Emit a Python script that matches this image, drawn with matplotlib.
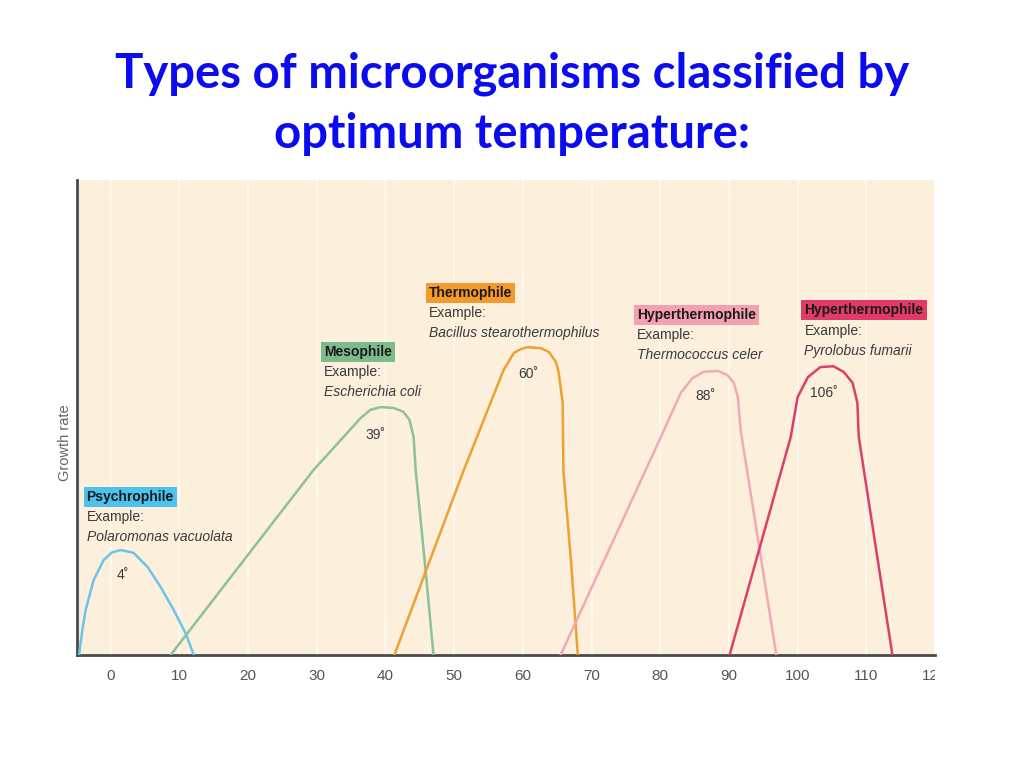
import matplotlib
matplotlib.use("Agg")
import matplotlib.pyplot as plt
from matplotlib.transforms import Bbox, TransformedBbox

# temperature (deg C) / growth rate points
psychro_x = [-4.6, -4.1, -3.64, -2.47, -1.02, 0.2, 1.46, 3.35, 5.39, 7.28, 9.17, 10.9, 12.1]
psychro_y = [0, 5.5, 9.5, 15.8, 20.0, 21.6, 22.1, 21.5, 18.5, 14.3, 9.5, 4.6, 0]

meso_x = [8.73, 29.5, 33.9, 36.4, 37.8, 39.3, 41.2, 42.6, 43.5, 44.1, 44.4, 45.7, 47.0]
meso_y = [0, 38.9, 45.9, 49.9, 51.6, 52.2, 52.0, 51.2, 49.5, 45.9, 38.9, 20.0, 0]

thermo_x = [41.3, 51.4, 57.2, 58.7, 59.7, 60.7, 62.6, 63.8, 64.8, 65.2, 65.8, 65.9, 67.0, 68.0]
thermo_y = [0, 38.9, 60.0, 63.6, 64.4, 64.8, 64.6, 63.8, 61.7, 59.6, 53.1, 38.9, 20.0, 0]

hyper1_x = [65.5, 80.1, 83.0, 84.7, 86.3, 88.4, 89.8, 90.7, 91.3, 91.7, 96.9]
hyper1_y = [0, 45.9, 55.2, 58.3, 59.6, 59.8, 58.9, 57.3, 54.3, 47.4, 0]

hyper2_x = [90.1, 99.0, 100.0, 101.5, 103.3, 105.2, 106.7, 108.0, 108.7, 108.9, 113.8]
hyper2_y = [0, 45.9, 54.3, 58.5, 60.6, 60.8, 59.6, 57.3, 53.1, 45.9, 0]

xticks = [0, 10, 20, 30, 40, 50, 60, 70, 80, 90, 100, 110, 120]

groups = ["Psychrophile", "Mesophile", "Thermophile", "Hyperthermophile", "Hyperthermophile"]
examples = ["Polaromonas vacuolata", "Escherichia coli", "Bacillus stearothermophilus",
            "Thermococcus celer", "Pyrolobus fumarii"]
optimum = ["4˚", "39˚", "60˚", "88˚", "106˚"]

line_colors = ["#6cc4e6", "#8cc29a", "#f0a032", "#f2a9b6", "#dd3f68"]
box_colors = ["#4cc2ee", "#7dbb8d", "#f49a2c", "#f3a1b1", "#e23a66"]

# label anchors (x, y of the group name) and the optimum labels
label_pos = [(-3.5, 33.3), (31.1, 63.8), (46.3, 76.2), (76.6, 71.6), (101.0, 72.6)]
opt_pos = [(1.7, 16.8), (38.6, 46.3), (60.8, 59.2), (86.6, 54.5), (103.8, 55.2)]

font_narrow = ["Liberation Sans Narrow", "Liberation Sans", "DejaVu Sans"]

fig = plt.figure(figsize=(10.24, 7.68), dpi=100)
ax = fig.add_axes([77 / 1024, 113 / 768, 858 / 1024, 475 / 768])
ax.set_facecolor("#fcefdc")

for x in xticks:
    ax.axvline(x, color="#fff7ec", lw=1.6, zorder=0)

curves = [(psychro_x, psychro_y), (meso_x, meso_y), (thermo_x, thermo_y),
          (hyper1_x, hyper1_y), (hyper2_x, hyper2_y)]
for (cx, cy), c in zip(curves, line_colors):
    ax.plot(cx, cy, color=c, lw=1.8, solid_joinstyle="round", zorder=3)

for i in range(5):
    lx, ly = label_pos[i]
    ax.text(lx, ly, groups[i], family=font_narrow, fontweight="bold", fontsize=10,
            color="#1a1a1a", va="center", ha="left", zorder=4,
            bbox=dict(boxstyle="square,pad=0.22", fc=box_colors[i], ec="none"))
    ax.text(lx, ly - 4.3, "Example:", family=font_narrow, fontsize=10,
            color="#3a3a3a", va="center", ha="left", zorder=4)
    ax.text(lx, ly - 8.5, examples[i], family=font_narrow, style="italic", fontsize=10,
            color="#3a3a3a", va="center", ha="left", zorder=4)
    ox, oy = opt_pos[i]
    ax.text(ox, oy, optimum[i], family=font_narrow, fontsize=10,
            color="#3a3a3a", va="center", ha="center", zorder=4)

ax.set_xlim(-4.9, 120.0)
ax.set_ylim(0, 100)
ax.set_xticks(xticks)
ax.set_xticklabels([str(t) for t in xticks], family=font_narrow, fontsize=11, color="#555555")
ax.set_yticks([])
ax.tick_params(axis="x", length=0, pad=10)
for s in ["top", "right"]:
    ax.spines[s].set_visible(False)
for s in ["left", "bottom"]:
    ax.spines[s].set_color("#4a4a4a")
    ax.spines[s].set_linewidth(2)

ax.text(-0.014, 0.448, "Growth rate", transform=ax.transAxes, rotation=90,
        family=font_narrow, fontsize=10.5, color="#666666", ha="center", va="center")

# the last tick label is cut by the picture edge in the reference
last = ax.get_xticklabels()[-1]
last.set_clip_on(True)
last.set_clip_box(TransformedBbox(Bbox([[0, 0], [935 / 1024, 1]]), fig.transFigure))

fig.text(0.5, 1 - 74 / 768, "Types of microorganisms classified by", family=["Lato", "DejaVu Sans"],
         fontweight="bold", fontsize=34, color="#0b0bf0", ha="center", va="center")
fig.text(0.5, 1 - 134 / 768, "optimum temperature:", family=["Lato", "DejaVu Sans"],
         fontweight="bold", fontsize=34, color="#0b0bf0", ha="center", va="center")

fig.savefig("out.png", dpi=100)
